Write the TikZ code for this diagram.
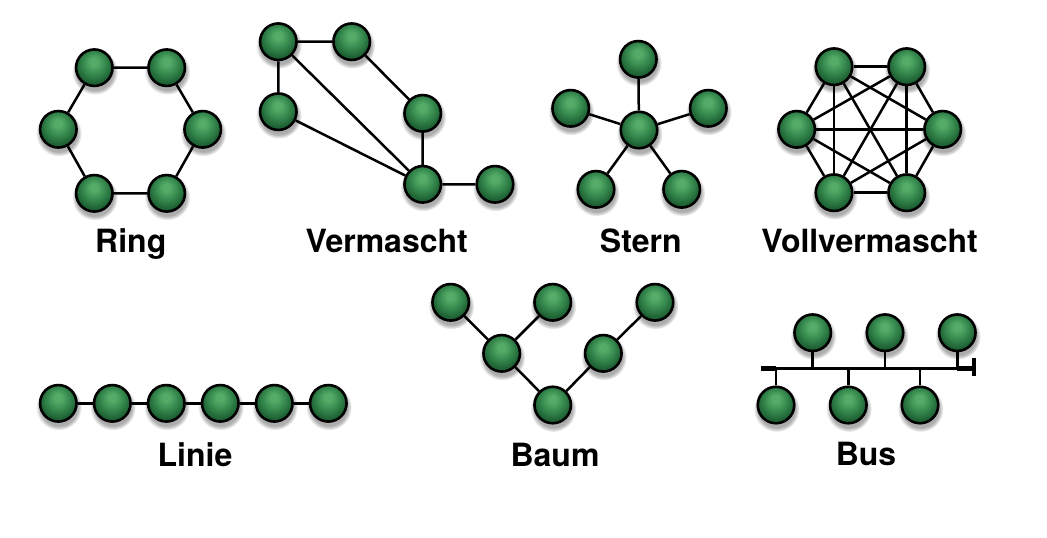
\documentclass[tikz,border=0pt]{standalone}
\usepackage{fontspec}
\setmainfont{TeX Gyre Heros}
\usetikzlibrary{fadings,backgrounds}

\definecolor{gLight}{RGB}{84,172,104}
\definecolor{gMid}{RGB}{52,134,76}
\definecolor{gDark}{RGB}{30,98,52}
\pgfdeclareradialshading{greenball}{\pgfqpoint{-0.5bp}{9bp}}{%
  color(0bp)=(gLight); color(5bp)=(gLight); color(16bp)=(gMid);
  color(25bp)=(gDark); color(50bp)=(gDark)}

\tikzset{
  gball/.style={circle, draw=black, line width=2.6pt, shade, shading=greenball,
    minimum size=36.5pt, inner sep=0pt},
  softshadow/.style={fill=black, opacity=0.32,
    path fading=circle with fuzzy edge 20 percent},
  link/.style={draw=black, line width=2.5pt},
  lbl/.style={anchor=base, font=\bfseries\fontsize{32}{38}\selectfont, inner sep=0pt},
  busend/.style={draw=black, line width=4.5pt},
}

% shadowed green node: name, position
\newcommand\gnode[2]{%
  \fill[softshadow, shift={(#2)}] (0.5,4) circle (23);
  \node[gball] (#1) at (#2) {};}

\begin{document}
\begin{tikzpicture}[x=1pt, y=-1pt]
\useasboundingbox (0,0) rectangle (1047,538);

% ---------- Ring ----------
\gnode{r1}{94.3,67.7}
\gnode{r2}{166.7,67.7}
\gnode{r3}{202.7,129.3}
\gnode{r4}{166.7,193.3}
\gnode{r5}{94.3,193.3}
\gnode{r6}{58.3,129.3}
\node[lbl] (tRing) at (130.8,252.5) {Ring};

% ---------- Vermascht ----------
\gnode{v1}{278.3,41.7}
\gnode{v2}{351.7,41.7}
\gnode{v3}{278.3,111.7}
\gnode{v4}{422.7,113.3}
\gnode{v5}{422.7,184.3}
\gnode{v6}{495,184.3}
\node[lbl] (tVerm) at (386.7,252.5) {Vermascht};

% ---------- Stern ----------
\gnode{s0}{639,130}
\gnode{s1}{638.3,59.3}
\gnode{s2}{570.7,108.3}
\gnode{s3}{708.3,108.3}
\gnode{s4}{596,189.3}
\gnode{s5}{681.7,189.3}
\node[lbl] (tStern) at (640.8,252.5) {Stern};

% ---------- Vollvermascht ----------
\gnode{f1}{834,66.7}
\gnode{f2}{906.7,66.7}
\gnode{f3}{942.7,129.3}
\gnode{f4}{906.7,192.7}
\gnode{f5}{834,192.7}
\gnode{f6}{796.7,129.3}
\node[lbl] (tVoll) at (869.5,252.5) {Vollvermascht};

% ---------- Linie ----------
\gnode{l1}{58.3,403.3}
\gnode{l2}{112.3,403.3}
\gnode{l3}{166.3,403.3}
\gnode{l4}{220.3,403.3}
\gnode{l5}{274.3,403.3}
\gnode{l6}{328.3,403.3}
\node[lbl] (tLinie) at (195,466) {Linie};

% ---------- Baum ----------
\gnode{b1}{450.7,302.3}
\gnode{b2}{552.7,302.3}
\gnode{b3}{655,302.3}
\gnode{b4}{501.7,353.3}
\gnode{b5}{603.3,353.3}
\gnode{b6}{552.7,405}
\node[lbl] (tBaum) at (555,466) {Baum};

% ---------- Bus ----------
\gnode{u1}{812.7,332.7}
\gnode{u2}{885,332.7}
\gnode{u3}{957.3,332.7}
\gnode{d1}{776,405}
\gnode{d2}{848.3,405}
\gnode{d3}{920,405}
\coordinate (busL) at (760.5,368.5);
\coordinate (busR) at (971.5,368.5);
\coordinate (capT) at (973.7,358.3);
\coordinate (capB) at (973.7,376);
\node[lbl] (tBus) at (866,465) {Bus};

\begin{pgfonlayer}{background}
  % ring
  \path[link] (r1) -- (r2) -- (r3) -- (r4) -- (r5) -- (r6) -- (r1);
  % partial mesh
  \path[link] (v1) -- (v2) (v1) -- (v3) (v1) -- (v5) (v3) -- (v5)
              (v2) -- (v4) (v4) -- (v5) (v5) -- (v6);
  % star
  \foreach \k in {1,...,5} \path[link] (s0) -- (s\k);
  % full mesh
  \foreach \a/\b in {1/2,1/3,1/4,1/5,1/6,2/3,2/4,2/5,2/6,3/4,3/5,3/6,4/5,4/6,5/6}
    \path[link] (f\a) -- (f\b);
  % line
  \path[link] (l1) -- (l2) -- (l3) -- (l4) -- (l5) -- (l6);
  % tree
  \path[link] (b1) -- (b4) (b2) -- (b4) (b4) -- (b6) (b6) -- (b5) (b5) -- (b3);
  % bus
  \path[link] (busL) -- (busR);
  \foreach \n in {u1,u2,u3,d1,d2,d3} \path[link] (\n) -- (\n |- busL);
  \path[busend] (busL) -- (d1 |- busL);
  \path[busend] (u3 |- busR) -- (busR);
  \path[draw=black, line width=4pt] (capT) -- (capB);
\end{pgfonlayer}
\end{tikzpicture}
\end{document}
